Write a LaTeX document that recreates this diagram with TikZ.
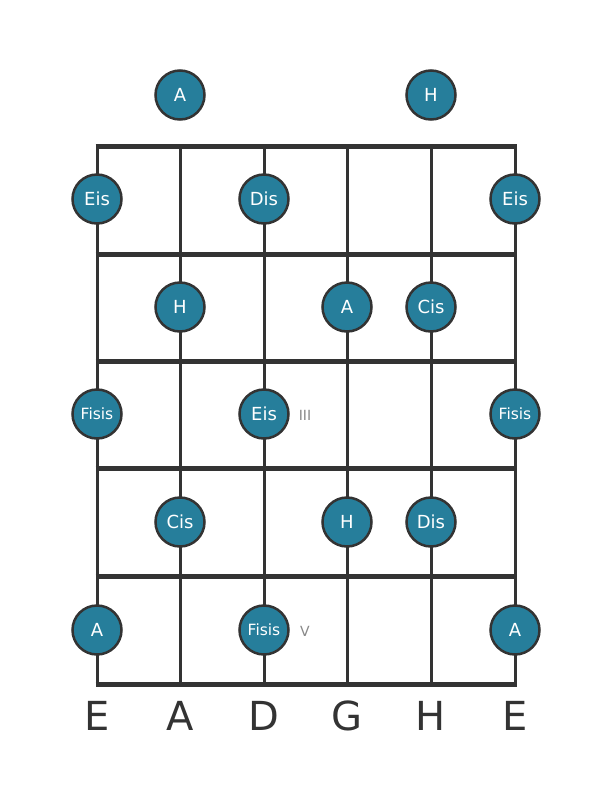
\documentclass[tikz,border=0pt]{standalone}
\usepackage{fontspec}
\setmainfont{DejaVu Sans}
\definecolor{notefill}{HTML}{267E9B}
\definecolor{ink}{HTML}{333333}
\definecolor{numgray}{HTML}{888888}
\tikzset{
  x=1pt,y=-1pt,
  stringline/.style={draw=ink,line width=3pt},
  fretline/.style={draw=ink,line width=5pt},
  note/.style={circle,draw=ink,line width=2.5pt,fill=notefill,minimum size=49pt,inner sep=0pt,text=white,font=\fontsize{18}{18}\selectfont},
  smallnote/.style={note,font=\fontsize{15.5}{15.5}\selectfont},
  strlabel/.style={text=ink,font=\fontsize{40}{40}\selectfont},
  fretnum/.style={text=numgray,font=\fontsize{14}{14}\selectfont}
}
\begin{document}
\begin{tikzpicture}
\useasboundingbox (0,0) rectangle (611,801);
% strings
\foreach \x/\n in {97/s1,180/s2,264/s3,347/s4,431/s5,515/s6}{
  \coordinate (\n t) at (\x,146);
  \coordinate (\n b) at (\x,684);
  \draw[stringline] (\n t) -- (\n b);
}
% frets
\foreach \y/\n in {146/f0,254/f1,361/f2,468/f3,576/f4,684/f5}{
  \coordinate (\n l) at (95.5,\y);
  \coordinate (\n r) at (516.5,\y);
  \draw[fretline] (\n l) -- (\n r);
}
% open notes
\node[note] (o2) at (180,95) {A};
\node[note] (o5) at (431,95) {H};
% fret 1
\node[note] (a1) at (97,199) {Eis};
\node[note] (a3) at (264,199) {Dis};
\node[note] (a6) at (515,199) {Eis};
% fret 2
\node[note] (b2) at (180,307) {H};
\node[note] (b4) at (347,307) {A};
\node[note] (b5) at (431,307) {Cis};
% fret 3
\node[smallnote] (c1) at (97,414) {Fisis};
\node[note] (c3) at (264,414) {Eis};
\node[smallnote] (c6) at (515,414) {Fisis};
\node[fretnum] (n3) at (305,415) {III};
% fret 4
\node[note] (d2) at (180,522) {Cis};
\node[note] (d4) at (347,522) {H};
\node[note] (d5) at (431,522) {Dis};
% fret 5
\node[note] (e1) at (97,630) {A};
\node[smallnote] (e3) at (264,630) {Fisis};
\node[note] (e6) at (515,630) {A};
\node[fretnum] (n5) at (305,631) {V};
% string names
\foreach \x/\t/\n in {97/E/l1,180/A/l2,264/D/l3,347/G/l4,431/H/l5,515/E/l6}{
  \node[strlabel] (\n) at (\x,716) {\t};
}
\end{tikzpicture}
\end{document}
